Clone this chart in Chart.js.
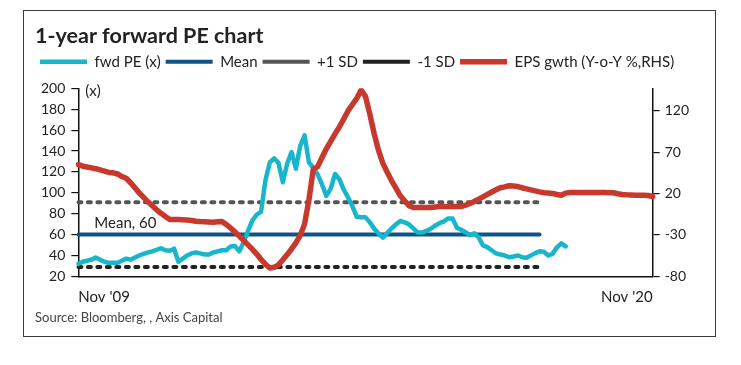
<!DOCTYPE html>
<html>
<head>
<meta charset="utf-8">
<script src="https://cdn.jsdelivr.net/npm/chart.js@4"></script>
<style>
body { margin: 0; background: #fff; }
#frame { position: absolute; left: 23px; top: 10px; width: 691px; height: 325px; border: 1px solid #3a3a3a; }
#wrap { position: absolute; left: 0; top: 0; width: 741px; height: 365px; }
</style>
</head>
<body>
<div id="frame"></div>
<div id="wrap"><canvas id="pe-chart"></canvas></div>
<script>
// monthly axis, Nov '09 .. Nov '20
var monthNames = ['Jan','Feb','Mar','Apr','May','Jun','Jul','Aug','Sep','Oct','Nov','Dec'];
var months = [];
for (var i = 0; i <= 132; i++) {
	var m = 10 + i;
	var yr = 2009 + Math.floor(m / 12);
	months.push(monthNames[m % 12] + " '" + String(yr).slice(2));
}
var tickLabels = ["Nov '09", "Nov '20"];
var rightTicks = [-80, -30, 20, 70, 120];

// 1-year forward PE (x), monthly
var peValues = [
	32, 34, 35, 36, 38, 36, 34, 33, 33, 33,
	35, 37, 36, 38, 40, 41.5, 43, 44, 45.5, 47,
	45, 44.5, 46.5, 34, 37, 40, 42, 43, 42, 41,
	41, 43, 44, 45, 45, 48.7, 49, 44, 53, 63.6,
	73.6, 79, 82, 112, 129, 133, 128.6, 110, 128, 139,
	123, 145, 155, 129, 124, 117.6, 108, 97, 104, 118,
	113, 103, 95.6, 87, 77, 76.5, 76.5, 71.7, 65.7, 61,
	57, 61.5, 66, 69.8, 73, 71.7, 69.8, 66, 62, 62,
	63.5, 65.6, 68.5, 71, 72.7, 75.5, 75.5, 66.6, 64.7, 62.3,
	59.4, 61.3, 57.3, 49.7, 48, 45, 42, 41, 40, 38.4,
	39, 40, 38.4, 37.8, 40, 42.3, 44, 43.5, 40, 41.6,
	47.8, 51.6, 48.7
];

// EPS growth Y-o-Y % (RHS), monthly
var epsValues = [
	55, 53, 52, 51, 50, 48.5, 47, 45.5, 45, 43.6,
	40.5, 38.4, 33, 27, 20.6, 15.3, 10, 5.2, 0.4, -3.9,
	-7.7, -11.3, -11.3, -11.3, -11.5, -12, -12.5, -13.4, -13.8, -14,
	-14.3, -14.6, -14, -13.7, -17.3, -21.7, -26.3, -31.4, -36.7, -42,
	-47.3, -53, -59.6, -65.3, -69.9, -69, -66, -60, -53.7, -46.9,
	-39.6, -30.5, -16.6, 12.5, 49.3, 52.5, 63.5, 74, 83, 92,
	100.5, 110, 120, 127.5, 135, 145, 137, 115.8, 92, 72,
	56.4, 45.8, 35.4, 26.4, 17.3, 11.2, 5.4, 3, 3, 3,
	3, 3, 3.7, 4.3, 4.3, 4.3, 4.3, 4.3, 4.3, 5.9,
	8, 10.5, 13.2, 16, 18.9, 21.8, 24.5, 27, 28, 29.5,
	29, 28.4, 27, 25.7, 24.4, 23.2, 22, 21, 20.6, 20.1,
	18.8, 18, 20.5, 21.2, 21.2, 21.2, 21.2, 21.2, 21.2, 21.2,
	21.2, 21.2, 21, 21, 19.8, 18.8, 18.4, 18.2, 18, 18,
	17.8, 17.6, 16.4
];

var meanValue = 60;
var sdUpper = 91;
var sdLower = 29;
var bandEnd = "Sep '18";

var cyan = 'rgb(23,182,204)';
var navy = 'rgb(16,84,135)';
var gray = 'rgb(85,85,85)';
var dark = 'rgb(34,34,34)';
var red = 'rgb(200,57,45)';

function flatLine(v) {
	return [{x: months[0], y: v}, {x: bandEnd, y: v}];
}

/* (x) and Mean label inside the plot */
var labelPlugin = {
	id: 'peLabels',
	afterDatasetsDraw: function(chart) {
		var ctx = chart.ctx, area = chart.chartArea, y = chart.scales.y;
		ctx.save();
		ctx.fillStyle = '#222';
		ctx.font = '15px Lato, "Noto Sans", sans-serif';
		ctx.textBaseline = 'middle';
		ctx.fillText('(x)', area.left + 7, area.top + 3);
		ctx.fillText('Mean, ' + meanValue, area.left + 16, y.getPixelForValue(meanValue) - 11);
		ctx.restore();
	}
};

Chart.defaults.font.family = 'Lato, "Noto Sans", sans-serif';
Chart.defaults.color = '#222';

var axisGrid = {drawOnChartArea: false, drawTicks: true, tickLength: 7, color: '#111', lineWidth: 1.2};
var axisBorder = {display: true, color: '#111', width: 1.5};

var peChart = new Chart(document.getElementById('pe-chart'), {
	type: 'line',
	data: {
		labels: months,
		datasets: [
			{label: 'fwd PE (x)', data: peValues, borderColor: cyan, borderWidth: 4.5, yAxisID: 'y', order: 1},
			{label: 'Mean', data: flatLine(meanValue), borderColor: navy, borderWidth: 4, yAxisID: 'y', order: 2},
			{label: '+1 SD', data: flatLine(sdUpper), borderColor: gray, borderWidth: 4, borderDash: [3, 6.5], yAxisID: 'y', order: 3},
			{label: '-1 SD', data: flatLine(sdLower), borderColor: dark, borderWidth: 4, borderDash: [3, 6.5], yAxisID: 'y', order: 3},
			{label: 'EPS gwth (Y-o-Y %,RHS)', data: epsValues, borderColor: red, borderWidth: 5.5, yAxisID: 'y1', order: 0}
		]
	},
	options: {
		responsive: true,
		maintainAspectRatio: false,
		animation: false,
		layout: {padding: {left: 35, right: 47, top: 10, bottom: 39}},
		elements: {
			point: {radius: 0},
			line: {tension: 0, borderJoinStyle: 'round', borderCapStyle: 'round'}
		},
		plugins: {
			title: {
				display: true, text: '1-year forward PE chart', align: 'start', color: '#222',
				font: {size: 21.5, weight: 'bold'}, padding: {top: 13.5, bottom: 0}
			},
			legend: {
				display: true, align: 'start',
				labels: {
					usePointStyle: true, pointStyle: 'line', pointStyleWidth: 47, padding: 5,
					color: '#222', font: {size: 15},
					sort: function(a, b) { return a.datasetIndex - b.datasetIndex; }
				}
			},
			subtitle: {
				display: true, position: 'bottom', align: 'start', text: 'Source: Bloomberg, , Axis Capital',
				color: '#444', font: {size: 13}, padding: {top: 0, bottom: 0}
			},
			tooltip: {enabled: false}
		},
		scales: {
			x: {
				type: 'category',
				offset: false,
				grid: {display: false, tickLength: 8},
				border: axisBorder,
				ticks: {autoSkip: false, maxRotation: 0, align: 'inner', padding: 4, color: '#222', font: {size: 15}},
				afterBuildTicks: function(axis) {
					axis.ticks = axis.ticks.filter(function(t) { return tickLabels.indexOf(months[t.value]) >= 0; });
				}
			},
			// empty top axis, only keeps a gap under the legend
			gap: {
				type: 'category',
				position: 'top',
				display: true,
				grid: {display: false, drawTicks: true, tickLength: 9},
				border: {display: false},
				ticks: {display: false}
			},
			y: {
				position: 'left', min: 20, max: 200,
				ticks: {stepSize: 20, autoSkip: false, padding: 6, color: '#222', font: {size: 14}},
				grid: axisGrid,
				border: axisBorder
			},
			y1: {
				position: 'right', min: -80, max: 147,
				afterBuildTicks: function(axis) {
					axis.ticks = rightTicks.map(function(v) { return {value: v}; });
				},
				ticks: {padding: 5, autoSkip: false, color: '#222', font: {size: 14}},
				grid: axisGrid,
				border: axisBorder
			}
		}
	},
	plugins: [labelPlugin]
});
</script>
</body>
</html>
